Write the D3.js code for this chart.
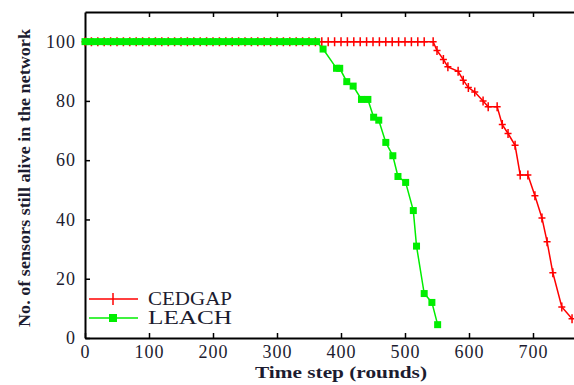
<!DOCTYPE html>
<html>
<head>
<meta charset="utf-8">
<script src="https://cdnjs.cloudflare.com/ajax/libs/d3/7.8.5/d3.min.js"></script>
<style>
  body { margin: 0; background: #fff; }
  svg { display: block; font-family: "Liberation Serif", "Times New Roman", serif; }
</style>
</head>
<body>
<div id="chart"></div>
<script>
// rounds (x) and alive sensors (y)
const cedgapRounds = [0, 10, 20, 30, 40, 50, 60, 70, 80, 90, 100, 110, 120, 130, 140, 150, 160, 170, 180, 190,
  200, 210, 220, 230, 240, 250, 260, 270, 280, 290, 300, 310, 320, 330, 340, 350, 360, 370, 380, 390,
  400, 410, 420, 430, 440, 450, 460, 470, 480, 490, 500, 510, 520, 530, 544,
  550, 560, 567, 583, 591, 599, 609, 622, 630, 644, 652, 661, 672, 680, 692, 703, 714, 722, 731, 745, 761];
const cedgapAlive = [100, 100, 100, 100, 100, 100, 100, 100, 100, 100, 100, 100, 100, 100, 100, 100, 100, 100, 100, 100,
  100, 100, 100, 100, 100, 100, 100, 100, 100, 100, 100, 100, 100, 100, 100, 100, 100, 100, 100, 100,
  100, 100, 100, 100, 100, 100, 100, 100, 100, 100, 100, 100, 100, 100, 100,
  97, 94, 91.5, 90, 87, 84.5, 83, 80, 78, 78, 72, 69, 65, 55, 55, 48, 40.5, 32.5, 22, 10.5, 6.5];

const leachRounds = [0, 8, 16, 24, 32, 40, 48, 56, 64, 72, 80, 88, 96, 104, 112, 120, 128, 136, 144, 152,
  160, 168, 176, 184, 192, 200, 208, 216, 224, 232, 240, 248, 256, 264, 272, 280, 288, 296, 304, 312,
  320, 328, 336, 344, 352, 362,
  372, 393, 398, 409, 419, 432, 442, 451, 459, 470, 481, 489, 501, 513, 518, 530, 542, 551];
const leachAlive = [100, 100, 100, 100, 100, 100, 100, 100, 100, 100, 100, 100, 100, 100, 100, 100, 100, 100, 100, 100,
  100, 100, 100, 100, 100, 100, 100, 100, 100, 100, 100, 100, 100, 100, 100, 100, 100, 100, 100, 100,
  100, 100, 100, 100, 100, 100,
  97.5, 91, 91, 86.5, 85, 80.5, 80.5, 74.5, 73.5, 66, 61.5, 54.5, 52.5, 43, 31, 15, 12, 4.5];

const xTicks = [0, 100, 200, 300, 400, 500, 600, 700];
const yTicks = [0, 20, 40, 60, 80, 100];
const seriesNames = ["CEDGAP", "LEACH"];
const seriesColors = ["#ff0000", "#00ee00"];

const width = 574, height = 385;
const svg = d3.select("#chart").append("svg")
  .attr("width", width)
  .attr("height", height);

const x = d3.scaleLinear().domain([0, 800]).range([85, 597]);
const y = d3.scaleLinear().domain([0, 110]).range([338, 12]);

// frame + ticks
const xAxisBottom = svg.append("g")
  .attr("transform", "translate(0,338)")
  .call(d3.axisBottom(x).tickValues(xTicks).tickSize(-5).tickSizeOuter(0).tickPadding(7));
const xAxisTop = svg.append("g")
  .attr("transform", "translate(0,12)")
  .call(d3.axisTop(x).tickValues(xTicks.slice(1)).tickSize(-5).tickSizeOuter(0).tickFormat(""));
const yAxisLeft = svg.append("g")
  .attr("transform", "translate(85,0)")
  .call(d3.axisLeft(y).tickValues(yTicks).tickSize(-5).tickSizeOuter(0).tickPadding(9));

[xAxisBottom, xAxisTop, yAxisLeft].forEach(g => {
  g.select(".domain").attr("stroke", "#000").attr("stroke-width", 2);
  g.selectAll(".tick line").attr("stroke", "#000").attr("stroke-width", 1.5);
  g.selectAll("text")
    .attr("font-family", "Liberation Serif, serif")
    .attr("font-size", 18)
    .attr("letter-spacing", 1)
    .attr("fill", "#1c1c30");
});

// axis titles
svg.append("text")
  .attr("x", 341).attr("y", 378)
  .attr("text-anchor", "middle")
  .attr("font-size", 17).attr("font-weight", "bold")
  .attr("fill", "#1c1c30")
  .attr("textLength", 172).attr("lengthAdjust", "spacingAndGlyphs")
  .text("Time step (rounds)");

svg.append("text")
  .attr("transform", "translate(30,178) rotate(-90)")
  .attr("text-anchor", "middle")
  .attr("font-size", 16).attr("font-weight", "bold")
  .attr("fill", "#1c1c30")
  .attr("textLength", 298).attr("lengthAdjust", "spacingAndGlyphs")
  .text("No. of sensors still alive in the network");

const line = d3.line().x(d => x(d[0])).y(d => y(d[1]));

// CEDGAP (red plus) - drawn first, LEACH lies over it
const cedgap = cedgapRounds.map((r, i) => [r, cedgapAlive[i]]);
svg.append("path")
  .datum(cedgap)
  .attr("fill", "none")
  .attr("stroke", seriesColors[0])
  .attr("stroke-width", 1.5)
  .attr("d", line);
svg.selectAll("path.cedgap")
  .data(cedgap)
  .enter()
  .append("path")
  .attr("class", "cedgap")
  .attr("transform", d => `translate(${x(d[0])},${y(d[1])})`)
  .attr("d", "M-3.5,0H3.5M0,-4.5V4.5")
  .attr("stroke", seriesColors[0])
  .attr("stroke-width", 1.5)
  .attr("fill", "none");

// LEACH (green squares)
const leach = leachRounds.map((r, i) => [r, leachAlive[i]]);
svg.append("path")
  .datum(leach)
  .attr("fill", "none")
  .attr("stroke", seriesColors[1])
  .attr("stroke-width", 1.5)
  .attr("d", line);
svg.selectAll("rect.leach")
  .data(leach)
  .enter()
  .append("rect")
  .attr("class", "leach")
  .attr("x", d => x(d[0]) - 3.5)
  .attr("y", d => y(d[1]) - 3.5)
  .attr("width", 7)
  .attr("height", 7)
  .attr("fill", seriesColors[1]);

// legend
const legend = svg.append("g");
seriesNames.forEach((name, i) => {
  const ly = 299 + i * 19;
  legend.append("line")
    .attr("x1", 89).attr("x2", 138)
    .attr("y1", ly).attr("y2", ly)
    .attr("stroke", seriesColors[i])
    .attr("stroke-width", 1.5);
  if (i === 0) {
    legend.append("path")
      .attr("transform", `translate(113,${ly})`)
      .attr("d", "M0,-6V6")
      .attr("stroke", seriesColors[i])
      .attr("stroke-width", 1.5);
  } else {
    legend.append("rect")
      .attr("x", 109).attr("y", ly - 4)
      .attr("width", 8).attr("height", 8)
      .attr("fill", seriesColors[i]);
  }
  legend.append("text")
    .attr("x", 148).attr("y", ly + 6)
    .attr("font-size", 18)
    .attr("fill", "#1c1c30")
    .attr("textLength", 84).attr("lengthAdjust", "spacingAndGlyphs")
    .text(name);
});
</script>
</body>
</html>
